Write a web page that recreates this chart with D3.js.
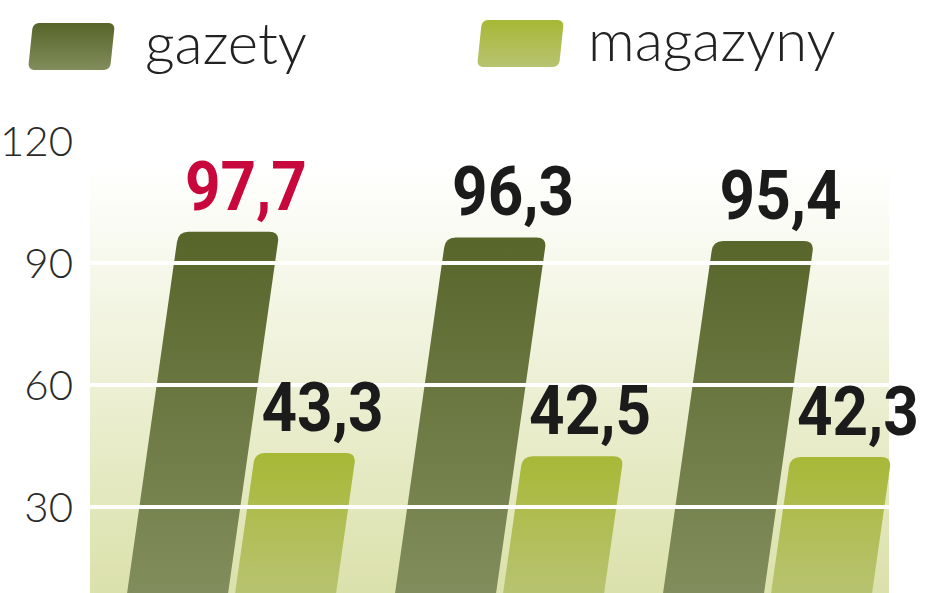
<!DOCTYPE html>
<html>
<head>
<meta charset="utf-8">
<script src="https://cdn.jsdelivr.net/npm/d3@7"></script>
<style>
  body { margin: 0; background: #fff; }
  svg { display: block; }
</style>
</head>
<body>
<div id="chart"></div>
<script>
// data
const groups = ["1", "2", "3"];
const series = ["gazety", "magazyny"];
const gazety = [97.7, 96.3, 95.4];
const magazyny = [43.3, 42.5, 42.3];
const yTicks = [30, 60, 90, 120];

const width = 948;
const height = 593;
const slant = 0.142;   // bars lean to the right
const radius = 10;

const svg = d3.select("#chart")
  .append("svg")
    .attr("width", width)
    .attr("height", height);

const y = d3.scaleLinear()
  .domain([0, 120])
  .range([629, 141]);

// group position, measured at the zero line
const x0 = d3.scaleBand()
  .domain(groups)
  .range([122, 867])
  .paddingInner(0.22)
  .paddingOuter(0);

const x1 = d3.scaleBand()
  .domain(series)
  .range([0, x0.bandwidth()])
  .paddingInner(0.065);

const color = d3.scaleOrdinal()
  .domain(series)
  .range([["#57652a", "#818d5c"], ["#a7b836", "#b8c370"]]);

const defs = svg.append("defs");

// plot background gradient
const bg = defs.append("linearGradient")
  .attr("id", "bg")
  .attr("gradientUnits", "userSpaceOnUse")
  .attr("x1", 0).attr("x2", 0)
  .attr("y1", 165).attr("y2", height);
bg.append("stop").attr("offset", 0).attr("stop-color", "#ffffff");
bg.append("stop").attr("offset", 1).attr("stop-color", "#dbe1ab");

const values = {gazety: gazety, magazyny: magazyny};

series.forEach(s => {
  const g = defs.append("linearGradient")
    .attr("id", "grad-" + s)
    .attr("gradientUnits", "userSpaceOnUse")
    .attr("x1", 0).attr("x2", 0)
    .attr("y1", y(d3.max(values[s]))).attr("y2", height);
  g.append("stop").attr("offset", 0).attr("stop-color", color(s)[0]);
  g.append("stop").attr("offset", 1).attr("stop-color", color(s)[1]);
});

// legend swatch gradients (their own small range)
series.forEach(s => {
  const g = defs.append("linearGradient")
    .attr("id", "leg-" + s)
    .attr("x1", 0).attr("x2", 0)
    .attr("y1", 0).attr("y2", 1);
  g.append("stop").attr("offset", 0).attr("stop-color", color(s)[0]);
  g.append("stop").attr("offset", 1).attr("stop-color", color(s)[1]);
});

// plot area
svg.append("rect")
  .attr("x", 90)
  .attr("y", 165)
  .attr("width", 799)
  .attr("height", height - 165)
  .attr("fill", "url(#bg)");

// flat table for the bars
const bars = [];
groups.forEach((grp, i) => {
  series.forEach(s => {
    bars.push({group: grp, key: s, value: values[s][i], index: i});
  });
});

function topRounded(x, top, w, bottom, r) {
  return "M" + x + "," + bottom +
    "V" + (top + r) +
    "Q" + x + "," + top + " " + (x + r) + "," + top +
    "H" + (x + w - r) +
    "Q" + (x + w) + "," + top + " " + (x + w) + "," + (top + r) +
    "V" + bottom + "Z";
}

const skew = "translate(" + (slant * y(0)) + ",0) skewX(" + (-Math.atan(slant) * 180 / Math.PI) + ")";

svg.append("g")
  .attr("transform", skew)
  .selectAll("path")
  .data(bars)
  .join("path")
    .attr("d", d => topRounded(x0(d.group) + x1(d.key), y(d.value), x1.bandwidth(), y(0), radius))
    .attr("fill", d => "url(#grad-" + d.key + ")");

// white grid lines run over the bars
svg.append("g")
  .selectAll("line")
  .data(yTicks.filter(t => t < 120))
  .join("line")
    .attr("x1", 90)
    .attr("x2", 889)
    .attr("y1", d => y(d))
    .attr("y2", d => y(d))
    .attr("stroke", "#fff")
    .attr("stroke-width", 4);

// y labels
svg.append("g")
  .selectAll("text")
  .data(yTicks)
  .join("text")
    .attr("x", 73)
    .attr("y", d => y(d))
    .attr("dy", "0.36em")
    .attr("text-anchor", "end")
    .style("font-family", "Lato, 'Open Sans', sans-serif")
    .style("font-weight", 300)
    .style("font-size", "42px")
    .attr("fill", "#2a2a2a")
    .text(d => d);

// value labels, squeezed to the narrow width of the original type
const topCenter = d => x0(d.group) + x1(d.key) + x1.bandwidth() / 2 + slant * (y(0) - y(d.value));

svg.append("g")
  .selectAll("text")
  .data(bars)
  .join("text")
    .attr("x", d => topCenter(d) + 17 - 61)
    .attr("y", d => y(d.value) - 22)
    .attr("textLength", 122)
    .attr("lengthAdjust", "spacingAndGlyphs")
    .style("font-family", "Roboto, 'Liberation Sans', sans-serif")
    .style("font-weight", 700)
    .style("font-size", "68px")
    .attr("fill", d => (d.key === "gazety" && d.index === 0) ? "#c8083c" : "#1b1b1b")
    .text(d => d3.format(".1f")(d.value).replace(".", ","));

// legend
const legendPos = [
  {key: "gazety", sx: 28, sy: 23, tx: 145, ty: 64},
  {key: "magazyny", sx: 477, sy: 20, tx: 588, ty: 61}
];

const legend = svg.append("g")
  .selectAll("g")
  .data(legendPos)
  .join("g");

legend.append("rect")
  .attr("x", 0)
  .attr("y", -47)
  .attr("width", 82)
  .attr("height", 47)
  .attr("rx", 6)
  .attr("transform", d => "translate(" + d.sx + "," + (d.sy + 47) + ") skewX(-6)")
  .attr("fill", d => "url(#leg-" + d.key + ")");

legend.append("text")
  .attr("x", d => d.tx)
  .attr("y", d => d.ty)
  .style("font-family", "Lato, 'Open Sans', sans-serif")
  .style("font-weight", 300)
  .style("font-size", "58px")
  .attr("fill", "#222")
  .text(d => d.key);
</script>
</body>
</html>
